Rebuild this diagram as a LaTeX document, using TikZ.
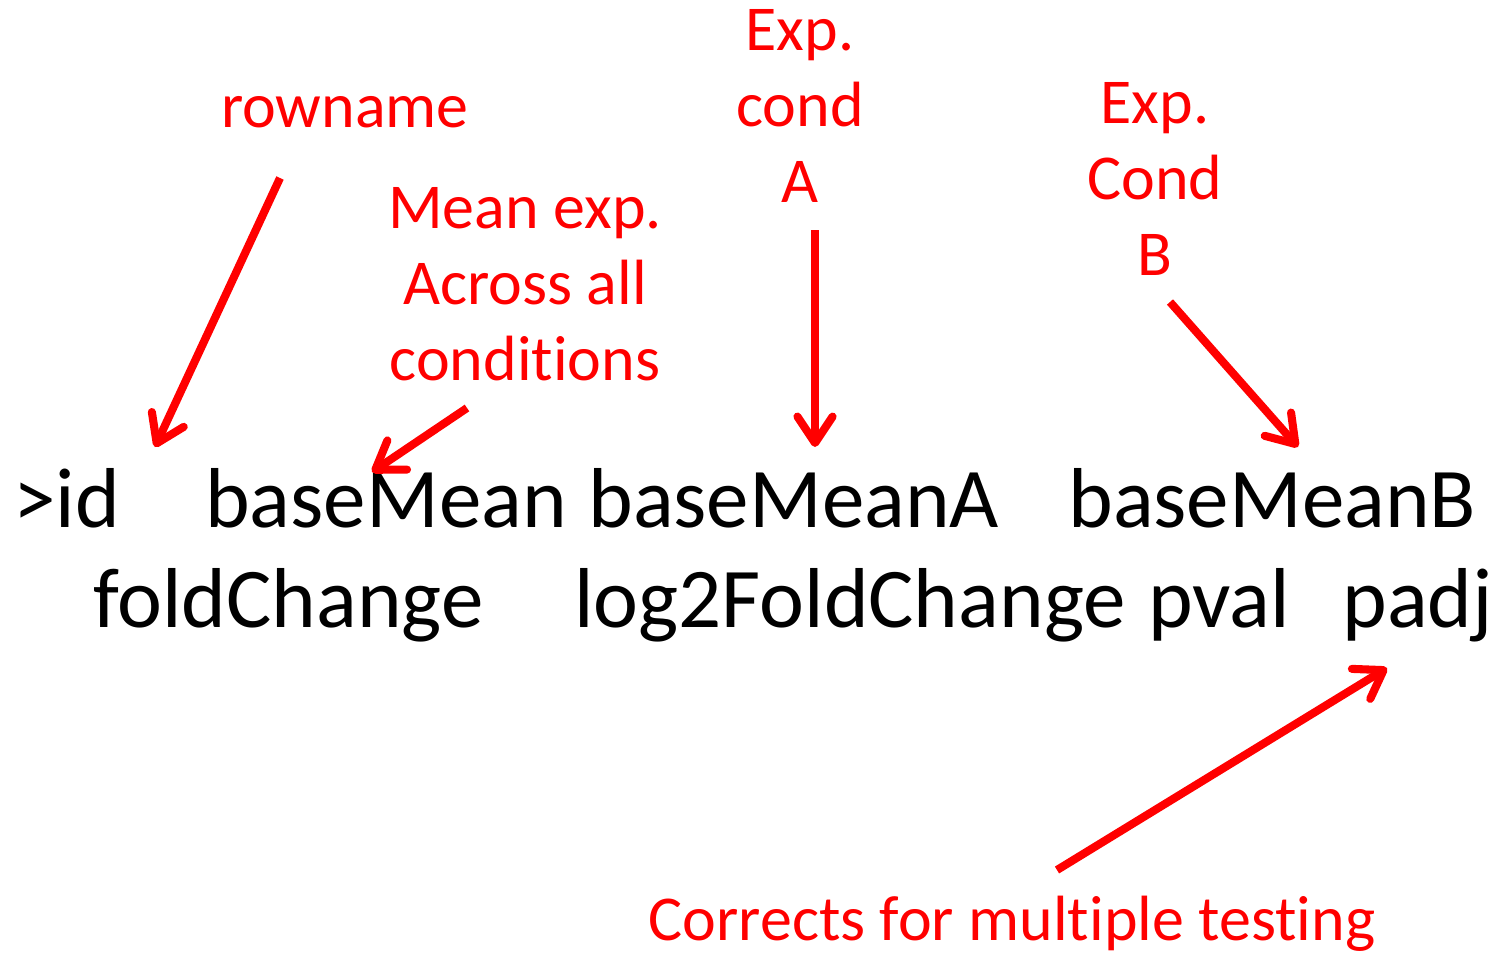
\documentclass[tikz,border=0pt]{standalone}
\usepackage{fontspec}
\setmainfont{Carlito}[Ligatures=NoCommon]
\usetikzlibrary{arrows.meta}
\definecolor{notered}{RGB}{255,0,0}
\tikzset{
  word/.style={anchor=base west,inner sep=0pt,font=\fontsize{48.4}{58}\selectfont},
  note/.style={text=notered,inner sep=0pt,align=center,anchor=base,font=\fontsize{36.4}{43.2}\selectfont},
  pointer/.style={draw=notered,line width=4.6pt,-{Straight Barb[length=15pt,width=20pt,round]}}
}
\begin{document}
\begin{tikzpicture}[x=0.02cm,y=-0.02cm]
  \useasboundingbox (0,0) rectangle (1508,953);
  % column header of the results table
  \node[word] (id) at (13,527) {>id};
  \node[word] (baseMean) at (205,527) {baseMean};
  \node[word] (baseMeanA) at (588,527) {baseMeanA};
  \node[word] (baseMeanB) at (1068,527) {baseMeanB};
  \node[word] (foldChange) at (93,627) {foldChange};
  \node[word] (log2FC) at (574,627) {log2FoldChange};
  \node[word] (pval) at (1148,627) {pval};
  \node[word] (padj) at (1342,627) {padj};
  % red notes (anchor = baseline of the last line)
  \node[note] (rowname) at (345,128) {rowname};
  \node[note] (meanexp) at (525,380) {Mean exp.\\Across all\\conditions};
  \node[note] (condA) at (800,202) {Exp.\\cond\\A};
  \node[note] (condB) at (1155,275) {Exp.\\Cond\\B};
  \node[note] (corrects) at (1012,940) {Corrects for multiple testing};
  % arrow ends
  \coordinate (rowname-s) at (280,178);
  \coordinate (rowname-e) at (155,447);
  \coordinate (meanexp-s) at (467,408);
  \coordinate (meanexp-e) at (372,472);
  \coordinate (condA-s) at (815,230);
  \coordinate (condA-e) at (815,447);
  \coordinate (condB-s) at (1170,302);
  \coordinate (condB-e) at (1298,447);
  \coordinate (corrects-s) at (1057,870);
  \coordinate (corrects-e) at (1387,668);
  \draw[pointer] (rowname-s) -- (rowname-e);
  \draw[pointer] (meanexp-s) -- (meanexp-e);
  \draw[pointer] (condA-s) -- (condA-e);
  \draw[pointer] (condB-s) -- (condB-e);
  \draw[pointer] (corrects-s) -- (corrects-e);
\end{tikzpicture}
\end{document}
